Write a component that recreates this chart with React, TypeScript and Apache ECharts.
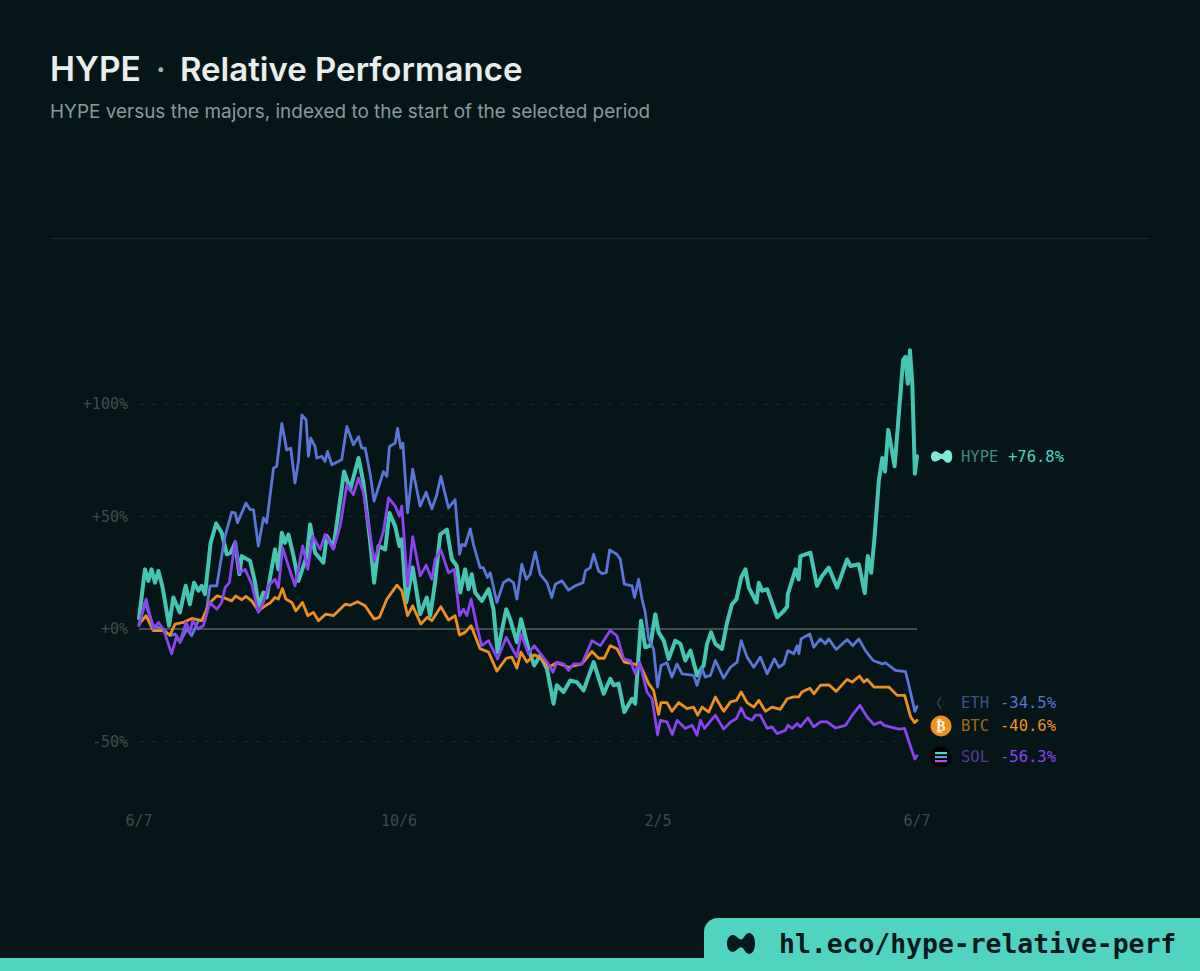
import React, { useEffect, useRef } from "react";
import * as echarts from "echarts";

type P = [number, number];

const tickDays = [0, 122, 243.5, 365];
const tickLabels = ["6/7", "10/6", "2/5", "6/7"];
const yTicks = [-50, 0, 50, 100];

const hypeSeries: P[] = [[0,4.7],[2.8,26.5],[4.4,21.4],[5.9,26.5],[7.5,20.6],[9.1,25.8],[11.1,18.4],[14.1,1.5],[16.1,14],[19.2,7.4],[21.9,19.2],[23.9,11],[25.8,20.6],[27.9,17],[29.4,19.2],[31,15.5],[33.6,38.3],[36.2,46.9],[38.8,42.8],[41.2,33.2],[43,33.9],[45.1,38.3],[47.1,24.3],[48.2,32.4],[52.1,30.2],[54.5,20.6],[56,10.3],[58.4,16.2],[59.9,14],[61.5,22.9],[63.8,35.4],[65.4,26.5],[67,42.8],[68.5,38.3],[70.1,42],[72.5,32.4],[74.8,21.4],[78.7,32.4],[80.3,46.5],[82.6,33.9],[86.5,29.5],[88.1,41.3],[91.2,36.1],[94.4,57.5],[96.2,70],[99.1,62],[103,76],[105.3,64.9],[108.5,38.3],[110.3,20.6],[112.4,36.9],[115.5,35.4],[117.5,51.6],[120.2,45.7],[122.2,36.9],[123.3,39.8],[125.4,11.8],[128.4,27.3],[131.9,6.6],[135,14],[136.6,5.9],[138.9,20.6],[141.3,42],[144.4,44.2],[146.8,31],[149.1,28],[150.7,16.2],[153,26.5],[154.6,17.7],[156.1,24.3],[157.7,16.2],[160.8,12.5],[164,17.7],[166.3,8.8],[168.2,-10.3],[172.3,8.8],[174.1,4.4],[177.3,-5.9],[179.2,4.4],[182.7,-8.8],[185.4,-16.2],[188.2,-11.8],[191.4,-17.7],[194.5,-33.2],[196,-25],[199.2,-28],[202.3,-22.9],[205.4,-23.6],[208.6,-27.3],[213.3,-14.7],[218,-28.8],[221.1,-22.1],[222.7,-25],[225,-24.3],[227.7,-36.9],[231.3,-31],[232.8,-33.2],[235.5,3.7],[237.5,-8.1],[239.9,-7.4],[242.2,6.6],[243.8,-1.5],[246.2,-5.2],[248.5,-13.3],[251.6,-5.2],[254,-6.6],[256.3,-14],[258.7,-9.6],[261.8,-20.6],[264.9,-16.2],[266.5,-6.6],[268.4,-1.5],[270.4,-6.6],[273.5,-8.8],[275.9,2.9],[278.2,11],[280.3,13.3],[282.5,22.9],[284.5,26.5],[286.1,18.4],[289.7,11.8],[290.8,20.6],[292.3,17],[294.7,17.7],[299.4,5.2],[302.5,8],[304.1,10],[304.4,15.5],[308,26.5],[309.5,22],[310.3,32.4],[315,33.9],[318.1,19.2],[320.5,23.6],[323.6,27.3],[327.5,18.4],[332.2,30.9],[333.8,28],[337.7,28.8],[340.5,16],[341.9,32.4],[343.5,25],[345,39.8],[347.1,66],[348.7,76],[350,70],[351.5,88.5],[354.5,72.3],[358.5,119.5],[359.6,121],[360.7,109],[361.7,123.9],[362.8,109],[364,69],[365,76.8]];

const ethSeries: P[] = [[0,1.5],[2.8,11.8],[6.7,1.5],[11.4,0],[14.6,-3],[16.9,-2.2],[19.2,-5.9],[22.4,0],[24.7,-3],[27.9,3.7],[31,3.7],[33.3,19.2],[36.5,19.2],[38,28],[40.4,41.3],[43.5,51.9],[45.1,51.6],[46.2,47.2],[50.2,56],[52.1,53.1],[53.7,53.1],[56,36.9],[58.4,49.4],[59.9,47.2],[63.1,71.5],[64.6,72.3],[67,91.4],[69.3,79.6],[71.2,80.4],[73.2,64.9],[74.8,74.5],[76.4,95.1],[78.4,92.9],[79.5,76.7],[80.6,84.8],[82.6,81.1],[83.4,76],[85.8,76.7],[87.3,74.5],[88.4,78.9],[90.5,73],[95.1,75.2],[97.5,90],[100.6,81.9],[103,85.5],[104.5,80.4],[106.1,80.4],[108.5,68.6],[110.3,56.8],[114.7,70],[116.3,67.8],[117.5,81.1],[120.2,82.6],[121.3,89.2],[122.8,80.4],[123.8,82.6],[126,51.6],[128.4,71],[131.9,54.6],[134.7,60.8],[137.4,53.4],[139.7,59.7],[141.6,67.8],[145.2,53.8],[148.3,57.5],[150.4,33.2],[151.5,37.6],[153,37],[155.4,44.5],[156.9,37.6],[160,27.3],[161.5,27.3],[163.5,22.9],[164.8,25],[167.9,11.8],[171,20.6],[173.4,22.1],[175.7,20.6],[177.3,13.3],[179.6,28.8],[181.7,22.1],[183.5,24.3],[185.9,34.2],[188.2,24.3],[191.4,20.6],[193.7,14],[195.3,19.9],[198.4,21.4],[201.5,17.3],[204.7,19.2],[208.3,20.6],[209.4,25.8],[211.7,27.3],[213.3,33.2],[215.6,25.8],[217.2,24.6],[219.2,25],[220.8,35.1],[224.2,33.2],[225.8,31],[227.7,19.9],[231.3,19.2],[232.5,14],[234.4,22.1],[236,13.3],[237.5,7.4],[239.1,-4.4],[241.4,-8.8],[243.3,-25.8],[244.9,-16.2],[247.7,-15],[250,-21.4],[252.4,-15.5],[254.8,-19.9],[260.2,-20.6],[261.8,-25],[264.2,-17.7],[265.7,-21.4],[268.1,-20.6],[270.4,-14],[274.3,-21.8],[277.5,-17],[280.6,-14.7],[282.5,-5.2],[285.3,-12.5],[288.4,-17],[291.5,-12.5],[294.7,-19.9],[298.1,-13.3],[300.2,-17],[302.5,-15.5],[304.4,-9.6],[307.2,-11],[308.8,-7.4],[309.6,-11],[310.6,-4.4],[314.7,-2.2],[316.6,-8.1],[319.7,-4.4],[322,-6.6],[323.6,-4.4],[327.1,-9.1],[332.2,-4.7],[334.9,-7.4],[337.7,-4.4],[340.8,-9.6],[344.4,-14],[348.7,-15.5],[350.2,-15],[354.9,-18.4],[359.6,-18.9],[361.2,-25],[364,-36.6],[365,-34.5]];

const btcSeries: P[] = [[0,2.2],[3.3,5.9],[6.7,-0.7],[11.4,-0.7],[14.6,-2.7],[16.9,2.2],[20.8,2.9],[24.7,4.7],[29.4,3.7],[33.3,11.8],[36.5,14.7],[39.6,14],[43.5,12.5],[45.4,14.7],[48.2,13],[50.2,14.5],[52.9,12.5],[56,8.1],[59.2,10.3],[61.8,11.8],[63.8,14],[65.4,13.3],[67.3,18],[68.9,13.3],[71.7,11.8],[73.6,8.1],[76.7,11.8],[79.2,5.9],[81.8,7.4],[84.2,3.7],[87.6,6.6],[91.2,5.9],[96.7,11],[99.1,10.6],[102.5,12.1],[106.1,10.3],[110.3,4.4],[112.8,5.2],[116.3,13.3],[121,19.5],[123.3,17],[126,5.9],[128.4,10.3],[132.2,2.2],[135.3,5.2],[137.4,3.7],[141.6,9.9],[145.2,4],[148.3,5.9],[150.4,-2.7],[153,-1.5],[155.8,1.5],[160,-8.8],[164,-10.3],[167.9,-18.7],[172.3,-13],[174.9,-12.5],[177.3,-17.4],[179.2,-10.3],[182,-14.7],[185.4,-11.5],[188.2,-12.5],[192.1,-17],[196,-15],[201.5,-17],[207.8,-15.5],[212.5,-10],[215.6,-13],[218.3,-13],[221.1,-7.4],[224.2,-8.8],[227.7,-14.7],[232,-15.5],[235.2,-16.2],[239.1,-24.3],[241.4,-27.3],[243.8,-38],[244.9,-32.7],[247.7,-32.7],[250,-36.6],[253.2,-32.7],[257.1,-35.4],[260.2,-34.7],[262.1,-38.3],[264.2,-34.7],[267.3,-36.9],[270.4,-30.2],[274.3,-36.6],[277.5,-32.4],[280.3,-31.7],[282.5,-28],[285.3,-32.7],[288.4,-34.7],[290.8,-31.7],[293.9,-36.6],[297,-34.7],[300.9,-35.7],[304.1,-31],[307.2,-30.2],[309.5,-30.2],[311,-28],[314.7,-26.3],[316.6,-28.8],[319.7,-25],[323.6,-24.8],[327.1,-27.7],[332.2,-22.4],[334.6,-23.6],[338,-20.9],[340.1,-23.6],[341.6,-22.4],[344.8,-25.8],[349.4,-25.8],[351.8,-25.8],[355.7,-29.5],[359.2,-29.5],[362,-39],[363.8,-41.6],[365,-40.6]];

const solSeries: P[] = [[0,1.5],[3.3,13.3],[6.7,0],[9.1,3],[11.4,0],[15.3,-11],[17.7,-3],[19.2,-5.9],[22.1,3],[23.9,-1.5],[25.2,3.7],[27.9,0],[30.2,1.5],[33.3,11.8],[36.5,8.8],[38.8,11.8],[40.4,18.4],[42.4,20.6],[45.1,39],[47.1,25],[49.8,26.5],[52.9,19.9],[56,7.4],[58.4,11.8],[60.7,19.2],[63.8,22.1],[65.4,18.4],[67.4,36.1],[70.1,28],[73.2,19.2],[76.8,36.9],[79.2,26.5],[81.5,41.3],[85,35.4],[87.3,42],[91.2,35.4],[94.4,45.7],[97.5,64.2],[100.6,59.7],[103,67.1],[105.3,60.5],[110.3,30.2],[114.7,43.5],[117.1,58.3],[120.2,54.6],[122.2,50.1],[123.3,54.6],[126,19.2],[128.4,41],[131.9,23.6],[134.7,28.3],[137.4,22.1],[138.9,31],[141.6,35.1],[145.2,25],[147.9,26.5],[150.4,5.9],[152.2,8.8],[153.8,5.9],[155.8,13.3],[158.8,0],[160.8,-7.4],[164,-5.2],[168.2,-13.3],[172.3,-3.7],[177.3,-12.5],[179.2,-2.2],[182.7,-11],[185.4,-7.4],[191.4,-14.7],[194.2,-19.2],[196,-14.7],[199.2,-15.5],[201.5,-18.4],[203.9,-15.5],[207.8,-15.5],[212.5,-5.2],[216.4,-7.4],[221.1,-0.7],[224.2,-3],[227.4,-13.3],[230.5,-14],[232.8,-19.9],[234.9,-14.7],[238.3,-28],[240.7,-31],[243.3,-47],[244.6,-40.6],[247.7,-41.3],[250.2,-46.9],[252.4,-40.6],[256.3,-44.2],[259.5,-42.8],[261.8,-47.2],[263.4,-40.6],[265.3,-44.2],[270.4,-38.3],[274.3,-44.5],[277.5,-41.3],[280.3,-39.8],[282.5,-35.1],[284.5,-39.1],[287.6,-40.6],[289.2,-38.3],[291.5,-38.3],[294.7,-44.2],[297,-43.5],[299.4,-46.5],[303.3,-45],[304.4,-42.8],[306.4,-44.2],[308.8,-42],[310.3,-43.5],[313.8,-39.5],[316.6,-43.5],[319.7,-41.3],[322.8,-41.3],[326.8,-44],[331.5,-42.8],[334.6,-38.3],[338.2,-33.9],[341.6,-39.1],[344.8,-42.5],[347.9,-41.3],[349.5,-42.8],[356.5,-44.5],[359.2,-44.2],[361.2,-50.1],[364,-57.8],[365,-56.3]];

const MONO = "'DejaVu Sans Mono', monospace";
const SANS = "Inter, 'Noto Sans', sans-serif";
const BG = "#061518";
const TEAL = "#4fd2bf";
const AXIS_TEXT = "#3f4c4d";

const LOGO = "M0 8 C0 3.5 3 1.5 6 1.5 C9.5 1.5 11 5 14 5 C17 5 18 0 22 0 C26 0 28 4 28 8 C28 12 26 16 22 16 C18 16 17 11 14 11 C11 11 9.5 14.5 6 14.5 C3 14.5 0 12.5 0 8 Z";
echarts.graphic.registerShape("hlLogo", echarts.graphic.extendPath(LOGO, {}));

const line = (name: string, data: P[], color: string, width: number, z: number) => ({
  name,
  type: "line",
  data,
  z,
  showSymbol: false,
  symbol: "none",
  smooth: false,
  lineStyle: { color, width, join: "round", cap: "round" },
});

const label = (x: number, y: number, text: string, fill: string) => ({
  type: "text",
  x,
  y,
  style: { text, fill, font: `500 15.5px ${MONO}`, textVerticalAlign: "middle", textAlign: "left" },
});

const solBar = (y: number, from: string, to: string) => ({
  type: "rect",
  shape: { x: 935, y, width: 12, height: 2.2 },
  style: { fill: { type: "linear", x: 0, y: 0, x2: 1, y2: 0, colorStops: [{ offset: 0, color: from }, { offset: 1, color: to }] } },
});

function buildOption() {
  return {
    animation: false,
    backgroundColor: BG,
    grid: { left: 139, width: 778, top: 291.5, height: 506.25 },
    xAxis: {
      type: "value",
      min: 0,
      max: 365,
      axisLine: { show: false },
      axisTick: { show: false },
      splitLine: { show: false },
      axisLabel: {
        customValues: tickDays,
        margin: 16,
        color: AXIS_TEXT,
        fontFamily: MONO,
        fontSize: 15,
        formatter: (v: number) => tickLabels[tickDays.indexOf(v)] ?? "",
      },
    },
    yAxis: {
      type: "value",
      min: -75,
      max: 150,
      interval: 25,
      axisLine: { show: false },
      axisTick: { show: false },
      splitLine: { show: false },
      axisLabel: {
        customValues: yTicks,
        margin: 11,
        color: AXIS_TEXT,
        fontFamily: MONO,
        fontSize: 15,
        formatter: (v: number) => (v >= 0 ? `+${v}%` : `${v}%`),
      },
    },
    series: [
      {
        name: "guides",
        type: "line",
        data: [],
        z: 1,
        markLine: {
          z: 1,
          silent: true,
          symbol: "none",
          label: { show: false },
          data: [
            { yAxis: 100, lineStyle: { color: "#172729", width: 1, type: [5, 8] } },
            { yAxis: 50, lineStyle: { color: "#172729", width: 1, type: [5, 8] } },
            { yAxis: -50, lineStyle: { color: "#172729", width: 1, type: [5, 8] } },
            { yAxis: 0, lineStyle: { color: "#434e50", width: 2.2, type: "solid" } },
          ],
        },
      },
      line("HYPE", hypeSeries, "#46c5b2", 4, 2),
      line("ETH", ethSeries, "#5b76d6", 2.8, 3),
      line("BTC", btcSeries, "#ee901f", 2.8, 4),
      line("SOL", solSeries, "#8a45ee", 2.8, 5),
    ],
    graphic: [
      { type: "text", x: 50, y: 69, style: { text: "HYPE", fill: "#e9edec", font: `600 33.5px ${SANS}`, textVerticalAlign: "middle" } },
      { type: "text", x: 156, y: 69, style: { text: "·", fill: "#aab4b4", font: `600 30px ${SANS}`, textVerticalAlign: "middle" } },
      { type: "text", x: 180, y: 69, style: { text: "Relative Performance", fill: "#e9edec", font: `600 33px ${SANS}`, textVerticalAlign: "middle" } },
      { type: "text", x: 50, y: 111, style: { text: "HYPE versus the majors, indexed to the start of the selected period", fill: "#8b9a9b", font: `400 18.95px ${SANS}`, textVerticalAlign: "middle" } },
      { type: "rect", shape: { x: 50, y: 238, width: 1100, height: 1 }, style: { fill: "#1a292c" } },

      { type: "hlLogo", x: 931, y: 450, scaleX: 0.76, scaleY: 0.8, style: { fill: "#7ee8d6" } },
      label(961, 457, "HYPE", "#3c8a80"),
      label(1008, 457, "+76.8%", TEAL),

      { type: "polyline", shape: { points: [[941, 697], [937.5, 703], [941, 709]] }, style: { stroke: "#2f4040", fill: "none", lineWidth: 1.6 } },
      { type: "polyline", shape: { points: [[942, 700], [944, 703], [942, 706]] }, style: { stroke: "#142224", fill: "none", lineWidth: 1.6 } },
      label(961, 703, "ETH", "#3c5088"),
      label(1000, 703, "-34.5%", "#5b76d6"),

      { type: "circle", shape: { cx: 941, cy: 726, r: 10.5 }, style: { fill: "#ee901f" } },
      { type: "text", x: 941, y: 726, style: { text: "₿", fill: "#fff3e0", font: `700 14px 'DejaVu Sans'`, textAlign: "center", textVerticalAlign: "middle" } },
      label(961, 726, "BTC", "#a06a22"),
      label(1000, 726, "-40.6%", "#ee901f"),

      { type: "circle", shape: { cx: 941, cy: 757, r: 10.5 }, style: { fill: "#000000" } },
      solBar(752, "#2ee6b5", "#4ad8d0"),
      solBar(756, "#6b9fe0", "#8a7ae8"),
      solBar(760, "#c84ae8", "#9a5ae8"),
      label(961, 757, "SOL", "#553a9e"),
      label(1000, 757, "-56.3%", "#8a45ee"),

      { type: "rect", shape: { x: 704, y: 918, width: 496, height: 53, r: [14, 0, 0, 0] }, style: { fill: "#50d3c0" } },
      { type: "rect", shape: { x: 0, y: 958, width: 1200, height: 13 }, style: { fill: "#50d3c0" } },
      { type: "hlLogo", x: 727, y: 933, scaleX: 1, scaleY: 1.3, style: { fill: "#04191c" } },
      { type: "text", x: 779, y: 943, style: { text: "hl.eco/hype-relative-perf", fill: "#04191c", font: `700 26.4px ${MONO}`, textVerticalAlign: "middle" } },
    ],
  };
}

export default function App() {
  const ref = useRef<HTMLDivElement>(null);
  useEffect(() => {
    document.body.style.margin = "0";
    const chart = echarts.init(ref.current!, null, { renderer: "svg" });
    chart.setOption(buildOption() as any);
    return () => chart.dispose();
  }, []);
  return <div ref={ref} style={{ width: 1200, height: 971 }} />;
}
